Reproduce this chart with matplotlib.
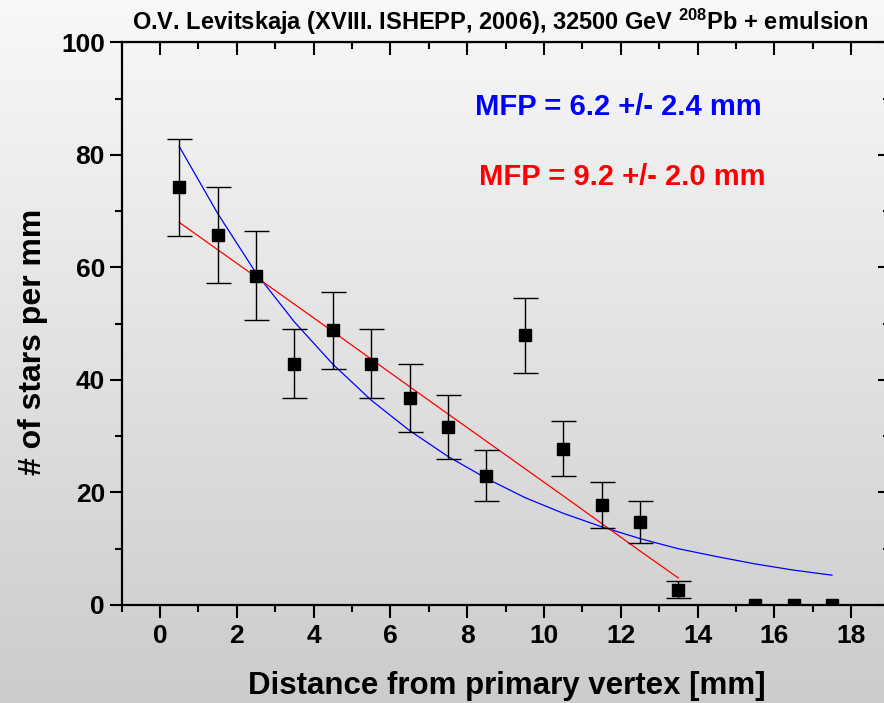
import numpy as np
import matplotlib
matplotlib.use("Agg")
import matplotlib.pyplot as plt
from matplotlib.ticker import MultipleLocator

plt.rcParams['font.family'] = ['Liberation Sans', 'DejaVu Sans']
plt.rcParams['font.weight'] = 'bold'
plt.rcParams['mathtext.fontset'] = 'custom'
plt.rcParams['mathtext.rm'] = 'Liberation Sans:bold'
plt.rcParams['mathtext.it'] = 'Liberation Sans:bold'
plt.rcParams['mathtext.bf'] = 'Liberation Sans:bold'

# data
dist = [0.5, 1.5, 2.5, 3.5, 4.5, 5.5, 6.5, 7.5, 8.5, 9.5, 10.5, 11.5, 12.5, 13.5, 15.5, 16.5, 17.5]
stars = [74.2, 65.8, 58.5, 42.9, 48.8, 42.9, 36.8, 31.7, 23.0, 47.9, 27.8, 17.8, 14.8, 2.7, 0.0, 0.0, 0.0]
err = [8.6, 8.5, 7.9, 6.2, 6.9, 6.2, 6.0, 5.7, 4.5, 6.7, 4.9, 4.1, 3.7, 1.5, 0, 0, 0]

fit_blue_x = [0.5, 1.5, 2.5, 3.5, 4.5, 5.5, 6.5, 7.5, 8.5, 9.5, 10.5, 11.5, 12.5, 13.5, 14.5, 15.5, 16.5, 17.5]
fit_blue_y = [81.5, 69.6, 59.0, 50.3, 42.8, 36.4, 31.0, 26.4, 22.5, 19.1, 16.3, 13.9, 11.8, 10.0, 8.6, 7.3, 6.2, 5.3]

fit_red_x = [0.5, 2.5, 4.5, 6.5, 8.5, 10.5, 12.5, 13.5]
fit_red_y = [68.0, 58.3, 48.6, 38.8, 29.1, 19.4, 9.6, 4.8]

title_txt = "O.V. Levitskaja (XVIII. ISHEPP, 2006), 32500 GeV $^{208}$Pb + emulsion"
blue_lbl = "MFP = 6.2 +/- 2.4 mm"
red_lbl = "MFP = 9.2 +/- 2.0 mm"

fig = plt.figure(figsize=(8.84, 7.03), dpi=100)

# gradient background
bg = fig.add_axes([0, 0, 1, 1], zorder=-10)
grad = np.linspace(248, 204, 256).reshape(-1, 1) / 255.0
bg.imshow(np.dstack([grad, grad, grad]), aspect='auto', extent=[0, 1, 0, 1])
bg.axis('off')

ax = fig.add_axes([121.6 / 884, 1 - 605 / 703, (889.6 - 121.6) / 884, (605 - 42.3) / 703])
ax.patch.set_alpha(0)

ax.errorbar(dist, stars, yerr=err, fmt='s', color='black', ms=9, capsize=9,
            elinewidth=1, capthick=1, zorder=3)
ax.plot(fit_blue_x, fit_blue_y, color='#0000ff', lw=0.9, zorder=2)
ax.plot(fit_red_x, fit_red_y, color='#ff0000', lw=0.9, zorder=2)

ax.text(8.2, 88.5, blue_lbl, color='#0000ff', fontsize=21, fontweight='bold', va='center')
ax.text(8.3, 76.1, red_lbl, color='#ff0000', fontsize=21, fontweight='bold', va='center')

ax.set_xlim(-1, 19)
ax.set_ylim(0, 100)
ax.xaxis.set_major_locator(MultipleLocator(2))
ax.xaxis.set_minor_locator(MultipleLocator(1))
ax.yaxis.set_major_locator(MultipleLocator(20))
ax.yaxis.set_minor_locator(MultipleLocator(10))
ax.set_xticks(range(0, 19, 2))

for s in ax.spines.values():
    s.set_linewidth(1.6)

ax.tick_params(which='major', direction='out', length=9, width=1.5, labelsize=19, pad=5)
ax.tick_params(which='minor', direction='out', length=5, width=1.5)
ax.tick_params(axis='y', pad=3)

top = ax.secondary_xaxis('top')
top.xaxis.set_major_locator(MultipleLocator(2))
top.xaxis.set_minor_locator(MultipleLocator(1))
top.tick_params(which='major', direction='in', length=9, width=1.5, labeltop=False)
top.tick_params(which='minor', direction='in', length=5, width=1.5)
right = ax.secondary_yaxis('right')
right.yaxis.set_major_locator(MultipleLocator(20))
right.yaxis.set_minor_locator(MultipleLocator(10))
right.tick_params(which='major', direction='in', length=9, width=1.5, labelright=False)
right.tick_params(which='minor', direction='in', length=5, width=1.5)

fig.text(33 / 884, 1 - 342 / 703, "# of stars per mm", rotation=90, fontsize=23,
         fontweight='bold', ha='center', va='center')
fig.text(507 / 884, 1 - 686 / 703, "Distance from primary vertex [mm]", fontsize=22.5,
         fontweight='bold', ha='center', va='center')
fig.text(500 / 884, 1 - 22 / 703, title_txt, fontsize=17, fontweight='bold',
         ha='center', va='center')

fig.savefig("out.png", dpi=100)
